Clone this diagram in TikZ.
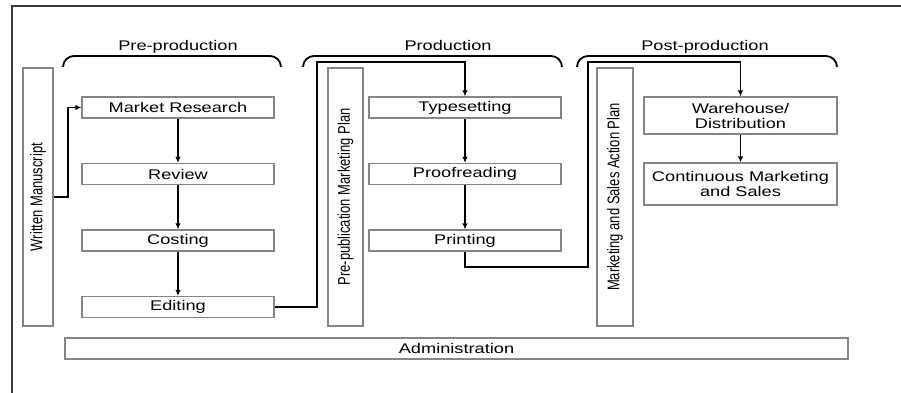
\documentclass[tikz,border=0pt]{standalone}
\usepackage{fontspec}
\setmainfont{Liberation Sans}
\newfontfamily\widefont[FakeStretch=1.3]{Liberation Sans}
\usepackage{graphicx}
\usetikzlibrary{arrows.meta}

\definecolor{boxgray}{HTML}{858585}
\definecolor{framegray}{HTML}{3A3A3A}

% text set upright in a tall, narrow column
\newcommand\uptext[1]{\rotatebox{90}{\scalebox{1}[1.3]{\fontsize{13}{15}\selectfont #1}}}

\tikzset{
  box/.style={draw=boxgray, line width=1.2pt, fill=white, inner sep=0pt,
    minimum width=192pt, minimum height=21pt, align=center,
    font=\widefont\fontsize{14}{15}\selectfont},
  tall/.style={draw=boxgray, line width=1.2pt, fill=white, inner sep=0pt,
    minimum height=258pt},
  flow/.style={line width=1.8pt, -{Latex[length=6pt,width=5.5pt]}},
  brace/.style={line width=1.8pt, rounded corners=11pt},
  phase/.style={font=\widefont\fontsize{14}{15}\selectfont, anchor=base, inner sep=0pt},
}

\begin{document}
\begin{tikzpicture}[x=1pt, y=-1pt]
  \useasboundingbox (0,0) rectangle (901,393);

  % outer frame (left and top edges)
  \draw[framegray, line width=1.5pt] (12,393) -- (12,6) -- (901,6);

  % phase brackets and their titles
  \draw[brace] (63,67) |- (281,56) -- (281,67);
  \draw[brace] (303,67) |- (562,56) -- (562,67);
  \draw[brace] (577,67) |- (837,56) -- (837,67);
  \node[phase] (pre)  at (178,51) {Pre-production};
  \node[phase] (prod) at (448,51) {Production};
  \node[phase] (post) at (705,51) {Post-production};

  % tall side columns
  \node[tall, minimum width=30pt] (wm)   at (38,197)    {\uptext{Written Manuscript}};
  \node[tall, minimum width=35pt] (ppmp) at (345.5,197) {\uptext{Pre-publication Marketing Plan}};
  \node[tall, minimum width=36pt] (msap) at (615,197)   {\uptext{Marketing and Sales Action Plan}};

  % pre-production steps
  \node[box] (mr)  at (178,107.5) {Market Research};
  \node[box] (rev) at (178,174)   {Review};
  \node[box] (cst) at (178,240.5) {Costing};
  \node[box] (edt) at (178,307)   {Editing};

  % production steps
  \node[box] (ts) at (465,107.5) {Typesetting};
  \node[box] (pf) at (465,174)   {Proofreading};
  \node[box] (pt) at (465,240.5) {Printing};

  % post-production steps
  \node[box, minimum width=193pt, minimum height=37pt] (wd)  at (740.5,115.5) {Warehouse/\\Distribution};
  \node[box, minimum width=193pt, minimum height=42pt] (cms) at (740.5,184)   {Continuous Marketing\\and Sales};

  % administration bar
  \node[box, minimum width=783pt] (adm) at (456.5,348.5) {Administration};

  % bend points of the long connectors
  \coordinate (wmx) at (68,197);
  \coordinate (edx) at (317,62);
  \coordinate (ptx) at (588,267);
  \coordinate (pty) at (588,62);

  % connectors
  \draw[flow] (wm.east) -- (wmx) |- (mr.west);
  \draw[flow] (mr) -- (rev);
  \draw[flow] (rev) -- (cst);
  \draw[flow] (cst) -- (edt);
  \draw[flow] (edt.east) -| (edx) -| (ts.north);
  \draw[flow] (ts) -- (pf);
  \draw[flow] (pf) -- (pt);
  \draw[flow] (pt.south) |- (ptx) -- (pty) -| (wd.north);
  \draw[flow] (wd) -- (cms);
\end{tikzpicture}
\end{document}
